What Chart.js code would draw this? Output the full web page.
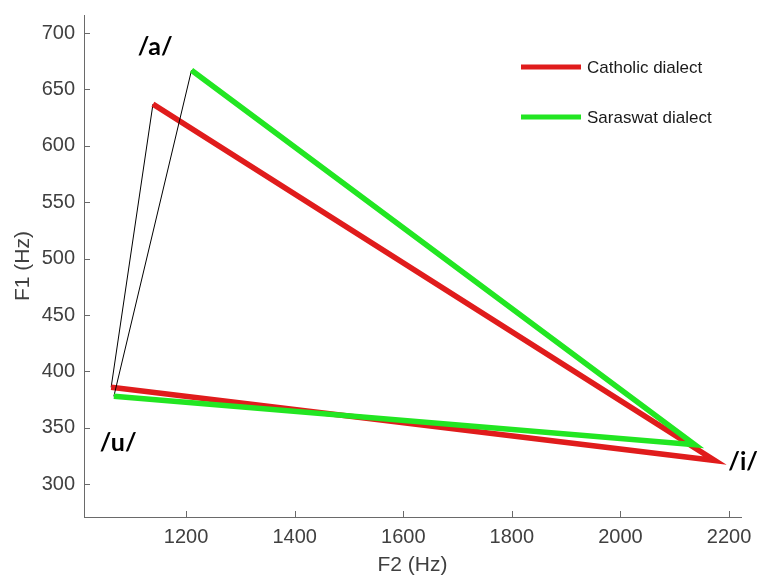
<!DOCTYPE html>
<html>
<head>
<meta charset="utf-8">
<script src="https://cdn.jsdelivr.net/npm/chart.js@4"></script>
<style>
  html, body { margin: 0; padding: 0; background: #fff; }
  #wrap { width: 761px; height: 576px; position: relative; }
</style>
</head>
<body>
<div id="wrap"><canvas id="vowelChart"></canvas></div>
<script>
// vowel order along each polygon (closed back to /u/)
const vowelOrder = ['/u/', '/a/', '/i/', '/u/'];

// Catholic dialect formants (Hz)
const catholicF2 = [1062, 1139, 2174, 1062];
const catholicF1 = [386, 637, 321, 386];

// Saraswat dialect formants (Hz)
const saraswatF2 = [1067, 1210, 2137, 1067];
const saraswatF1 = [378, 667, 335, 378];

// vowel label anchors (F2, F1)
const labelText = ['/a/', '/u/', '/i/'];
const labelF2 = [1143, 1075, 2226];
const labelF1 = [688, 337, 320];

// axis ticks
const xTicks = [1200, 1400, 1600, 1800, 2000, 2200];
const yTicks = [300, 350, 400, 450, 500, 550, 600, 650, 700];

const seriesNames = ['Catholic dialect', 'Saraswat dialect'];
const seriesColors = ['#e01c1c', '#22e622'];

function toPoints(xs, ys) {
    return xs.map((x, i) => ({ x: x, y: ys[i], vowel: vowelOrder[i] }));
}

// u->a edge is a thin black line, the rest is the thick dialect colour
function makeDataset(label, color, xs, ys, order) {
    return {
        label: label,
        data: toPoints(xs, ys),
        showLine: true,
        borderColor: color,
        backgroundColor: color,
        borderWidth: 5.5,
        pointRadius: 0,
        tension: 0,
        order: order,
        segment: {
            borderColor: ctx => ctx.p0DataIndex === 0 ? '#000000' : undefined,
            borderWidth: ctx => ctx.p0DataIndex === 0 ? 1 : undefined
        }
    };
}

// 안쪽 눈금, 범례, 모음 라벨
const extrasPlugin = {
    id: 'extras',
    afterDraw(chart) {
        const ctx = chart.ctx;
        const xs = chart.scales.x;
        const ys = chart.scales.y;
        const area = chart.chartArea;

        ctx.save();
        // inward tick marks
        ctx.strokeStyle = '#6a6a6a';
        ctx.lineWidth = 1;
        ctx.beginPath();
        xTicks.forEach(v => {
            const px = Math.round(xs.getPixelForValue(v)) + 0.5;
            ctx.moveTo(px, area.bottom);
            ctx.lineTo(px, area.bottom - 6);
        });
        yTicks.forEach(v => {
            const py = Math.round(ys.getPixelForValue(v)) + 0.5;
            ctx.moveTo(area.left, py);
            ctx.lineTo(area.left + 6, py);
        });
        ctx.stroke();

        // legend
        ctx.font = '17px "Liberation Sans", Arial, sans-serif';
        ctx.textBaseline = 'middle';
        ctx.textAlign = 'left';
        seriesNames.forEach((name, i) => {
            const y = 67 + i * 50;
            ctx.strokeStyle = seriesColors[i];
            ctx.lineWidth = 5;
            ctx.beginPath();
            ctx.moveTo(521, y);
            ctx.lineTo(581, y);
            ctx.stroke();
            ctx.fillStyle = '#1a1a1a';
            ctx.fillText(name, 587, y + 1);
        });

        // vowel labels
        ctx.font = 'bold 25px Lato, "Noto Sans", sans-serif';
        ctx.fillStyle = '#000';
        ctx.textAlign = 'center';
        labelText.forEach((t, i) => {
            ctx.fillText(t, xs.getPixelForValue(labelF2[i]), ys.getPixelForValue(labelF1[i]));
        });
        ctx.restore();
    }
};

const tickFont = { family: '"Liberation Sans", Arial, sans-serif', size: 20 };
const titleFont = { family: '"Liberation Sans", Arial, sans-serif', size: 21 };

new Chart(document.getElementById('vowelChart'), {
    type: 'scatter',
    data: {
        datasets: [
            makeDataset(seriesNames[0], seriesColors[0], catholicF2, catholicF1, 1),
            makeDataset(seriesNames[1], seriesColors[1], saraswatF2, saraswatF1, 0)
        ]
    },
    options: {
        responsive: true,
        maintainAspectRatio: false,
        animation: false,
        layout: { padding: { top: 15, right: 20, left: 0, bottom: 0 } },
        plugins: {
            legend: { display: false },
            tooltip: { enabled: false }
        },
        scales: {
            x: {
                type: 'linear',
                min: 1012,
                max: 2222,
                afterBuildTicks: s => { s.ticks = xTicks.map(v => ({ value: v })); },
                afterFit: s => { s.height = 59; s.paddingLeft = 0; s.paddingRight = 0; },
                grid: { display: false },
                border: { display: true, color: '#6a6a6a', width: 1 },
                ticks: { color: '#404040', font: tickFont, padding: 0, maxRotation: 0, callback: v => String(v) },
                title: { display: true, text: 'F2 (Hz)', color: '#404040', font: titleFont, padding: { top: 0, bottom: -2 } }
            },
            y: {
                type: 'linear',
                min: 271,
                max: 716,
                afterBuildTicks: s => { s.ticks = yTicks.map(v => ({ value: v })); },
                afterFit: s => { s.width = 84; s.paddingTop = 0; s.paddingBottom = 0; },
                grid: { display: false },
                border: { display: true, color: '#6a6a6a', width: 1 },
                ticks: { color: '#404040', font: tickFont, padding: 1, callback: v => String(v) },
                title: { display: true, text: 'F1 (Hz)', color: '#404040', font: titleFont, padding: 11 }
            }
        }
    },
    plugins: [extrasPlugin]
});
</script>
</body>
</html>
